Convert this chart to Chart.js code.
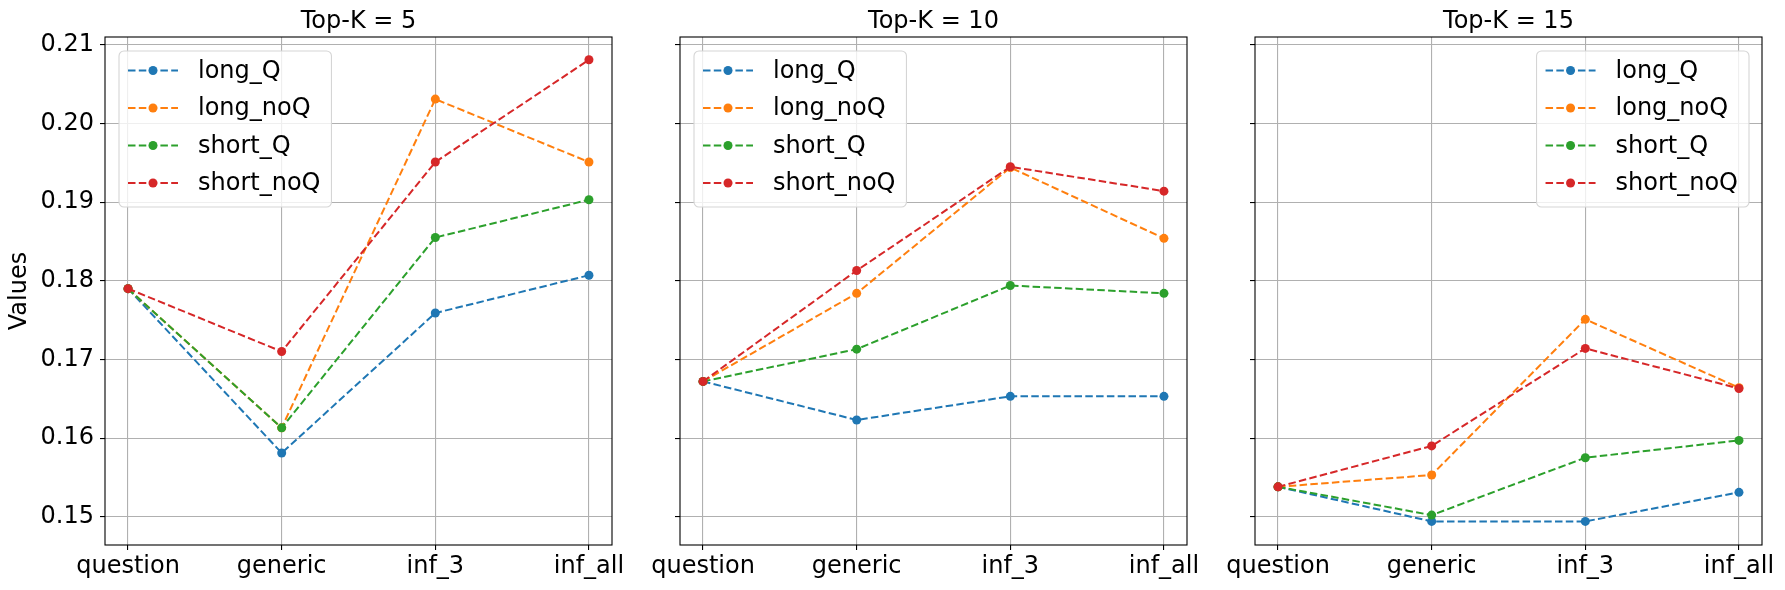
<!DOCTYPE html>
<html>
<head>
<meta charset="utf-8">
<script src="https://cdn.jsdelivr.net/npm/chart.js@4.4.1/dist/chart.umd.min.js"></script>
<style>
  html, body { margin: 0; padding: 0; background: #fff; }
  #wrap { position: relative; width: 1785px; height: 590px; }
  canvas { position: absolute; top: 0; }
</style>
</head>
<body>
<div id="wrap">
  <canvas id="c0" width="640" height="590" style="left:0px"></canvas>
  <canvas id="c1" width="570" height="590" style="left:640px"></canvas>
  <canvas id="c2" width="575" height="590" style="left:1210px"></canvas>
</div>
<script>
// data, one row per Top-K panel
const categories = ['question', 'generic', 'inf_3', 'inf_all'];
const topK = [5, 10, 15];
const seriesNames = ['long_Q', 'long_noQ', 'short_Q', 'short_noQ'];
const long_Q = [
  [0.1790, 0.1581, 0.1759, 0.1807],
  [0.1672, 0.1623, 0.1653, 0.1653],
  [0.1538, 0.1494, 0.1494, 0.1531]
];
const long_noQ = [
  [0.1790, 0.1613, 0.2031, 0.1951],
  [0.1672, 0.1784, 0.1944, 0.1854],
  [0.1538, 0.1553, 0.1751, 0.1664]
];
const short_Q = [
  [0.1790, 0.1613, 0.1855, 0.1903],
  [0.1672, 0.1713, 0.1794, 0.1784],
  [0.1538, 0.1502, 0.1575, 0.1597]
];
const short_noQ = [
  [0.1790, 0.1710, 0.1951, 0.2081],
  [0.1672, 0.1813, 0.1945, 0.1914],
  [0.1538, 0.1590, 0.1714, 0.1663]
];
const yTicks = [0.15, 0.16, 0.17, 0.18, 0.19, 0.20, 0.21];

const colors = ['#1f77b4', '#ff7f0e', '#2ca02c', '#d62728'];
const FONT = 'DejaVu Sans';
const FS = 24;
const dash = [7.5, 3.3];

// canvas layout per panel: y axis width, right padding, legend corner
const panels = [
  { yw: 105, rp: 28, legend: 'left' },
  { yw: 40, rp: 23, legend: 'left' },
  { yw: 45, rp: 23, legend: 'right' }
];

const deco = {
  id: 'deco',
  afterDraw: (chart, args, opts) => {
    const { ctx, chartArea: { left, right, top, bottom } } = chart;
    ctx.save();
    // frame
    ctx.strokeStyle = '#000';
    ctx.lineWidth = 1.1;
    ctx.strokeRect(left, top, right - left, bottom - top);
    // title
    ctx.fillStyle = '#000';
    ctx.font = FS + 'px "' + FONT + '"';
    ctx.textAlign = 'center';
    ctx.textBaseline = 'alphabetic';
    ctx.fillText(opts.title, (left + right) / 2, 28);

    // legend
    let tw = 0;
    chart.data.datasets.forEach(d => { tw = Math.max(tw, ctx.measureText(d.label).width); });
    const w = 79 + tw + 11;
    const h = 156;
    const x = opts.legend === 'left' ? left + 14 : right - 13 - w;
    const y = top + 14;
    ctx.beginPath();
    ctx.roundRect(x, y, w, h, 5);
    ctx.fillStyle = 'rgba(255,255,255,0.8)';
    ctx.fill();
    ctx.strokeStyle = '#d5d5d5';
    ctx.lineWidth = 1.1;
    ctx.stroke();
    ctx.textAlign = 'left';
    ctx.textBaseline = 'middle';
    seriesNames.forEach((name, i) => {
      const cy = y + 19.5 + i * 37.5;
      ctx.strokeStyle = colors[i];
      ctx.lineWidth = 2;
      ctx.setLineDash(dash);
      ctx.beginPath();
      ctx.moveTo(x + 9, cy);
      ctx.lineTo(x + 59, cy);
      ctx.stroke();
      ctx.setLineDash([]);
      ctx.fillStyle = colors[i];
      ctx.beginPath();
      ctx.arc(x + 34, cy, 4.5, 0, Math.PI * 2);
      ctx.fill();
      ctx.fillStyle = '#000';
      ctx.fillText(name, x + 79, cy + 1);
    });
    ctx.restore();
  }
};

function makePanel(p) {
  const all = [long_Q, long_noQ, short_Q, short_noQ];
  const datasets = seriesNames.map((name, s) => ({
    label: name,
    data: all[s][p].map((v, i) => ({ x: i, y: v })),
    borderColor: colors[s],
    backgroundColor: colors[s],
    borderWidth: 2,
    borderDash: dash,
    pointRadius: 4.5,
    pointHoverRadius: 4.5,
    pointBorderWidth: 0,
    tension: 0,
    order: seriesNames.length - s
  }));
  const cfg = panels[p];
  return new Chart(document.getElementById('c' + p), {
    type: 'line',
    data: { datasets: datasets },
    options: {
      responsive: false,
      animation: false,
      events: [],
      layout: { padding: { top: 37, right: cfg.rp, left: 0, bottom: 0 } },
      plugins: {
        legend: { display: false },
        tooltip: { enabled: false },
        deco: { title: 'Top-K = ' + topK[p], legend: cfg.legend }
      },
      scales: {
        x: {
          type: 'linear',
          min: -0.15,
          max: 3.15,
          afterBuildTicks: s => { s.ticks = categories.map((c, i) => ({ value: i })); },
          afterFit: s => { s.height = 45; },
          ticks: {
            callback: v => categories[v],
            font: { family: FONT, size: FS },
            color: '#000',
            padding: 2,
            maxRotation: 0,
            autoSkip: false
          },
          grid: { color: '#b0b0b0', lineWidth: 1.1, tickColor: '#000', tickLength: 5 },
          border: { display: false }
        },
        y: {
          type: 'linear',
          min: 0.1464,
          max: 0.2110,
          afterBuildTicks: s => { s.ticks = yTicks.map(v => ({ value: v })); },
          afterFit: s => { s.width = cfg.yw; },
          ticks: {
            display: p === 0,
            callback: v => v.toFixed(2),
            font: { family: FONT, size: FS },
            color: '#000',
            padding: 6
          },
          title: {
            display: p === 0,
            text: 'Values',
            font: { family: FONT, size: FS },
            color: '#000',
            padding: { top: 5, bottom: 0 }
          },
          grid: { color: '#b0b0b0', lineWidth: 1.1, tickColor: '#000', tickLength: 5 },
          border: { display: false }
        }
      }
    },
    plugins: [deco]
  });
}

topK.forEach((k, p) => makePanel(p));
</script>
</body>
</html>
